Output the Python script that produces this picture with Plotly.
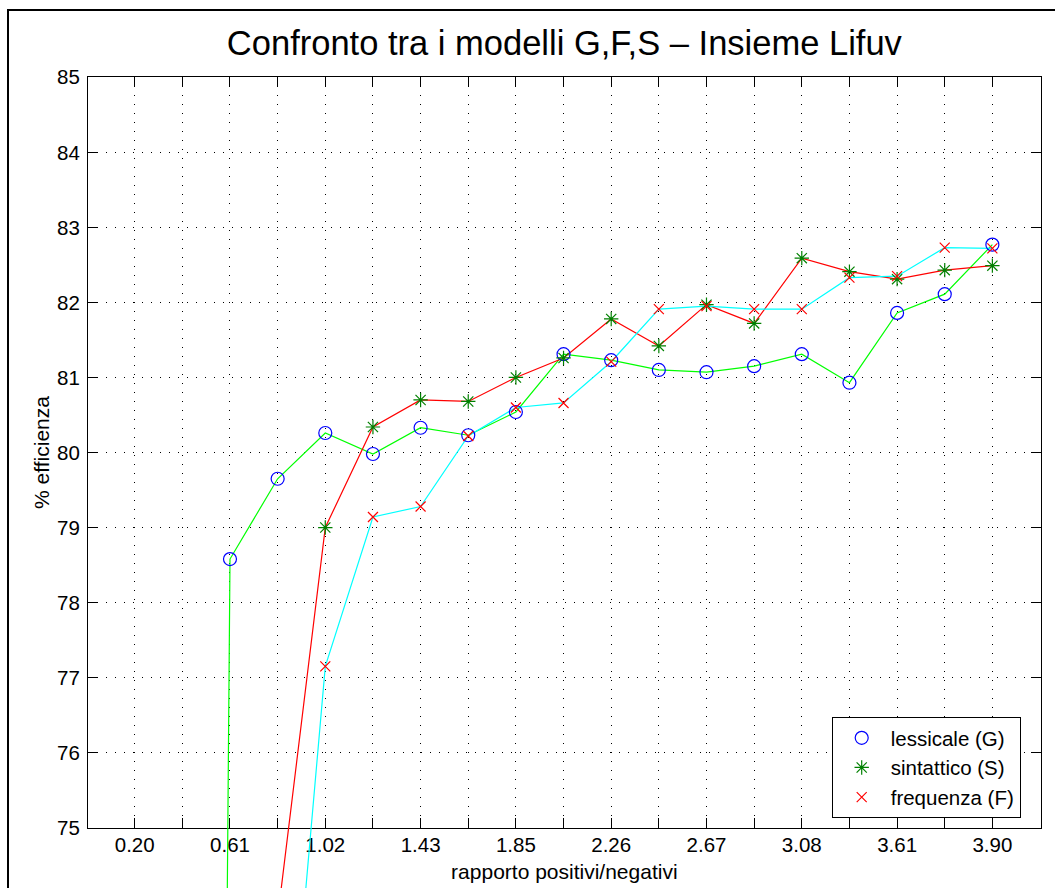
import plotly.graph_objects as go

# ---------------- data ----------------
# x positions: index along the ratio axis (integer = labelled tick, .5 = mid step)
x_steps = [0.0, 0.5, 1.0, 1.5, 2.0, 2.5, 3.0, 3.5, 4.0, 4.5,
           5.0, 5.5, 6.0, 6.5, 7.0, 7.5, 8.0, 8.5, 9.0]

tick_labels = ["0.20", "0.61", "1.02", "1.43", "1.85",
               "2.26", "2.67", "3.08", "3.61", "3.90"]

lessicale_G = [None, 0.0, 78.58, 79.65, 80.26, 79.98, 80.33, 80.23, 80.54, 81.31,
               81.23, 81.10, 81.07, 81.15, 81.31, 80.93, 81.86, 82.11, 82.77]

sintattico_S = [None, None, None, 73.8, 79.00, 80.34, 80.70, 80.68, 81.00, 81.26,
                81.78, 81.42, 81.97, 81.72, 82.59, 82.41, 82.31, 82.43, 82.49]

frequenza_F = [None, None, None, 69.9, 77.15, 79.14, 79.28, 80.22, 80.60, 80.66,
               81.21, 81.91, 81.95, 81.91, 81.91, 82.33, 82.35, 82.73, 82.72]

y_ticks = [75, 76, 77, 78, 79, 80, 81, 82, 83, 84, 85]

# ---------------- geometry ----------------
W, H = 1055, 888
AX_L, AX_R = 88.0, 1040.7     # px
AX_T, AX_B = 77.3, 827.7      # px
Y_MIN, Y_MAX = 75, 85
X_MIN, X_MAX = -0.49, 9.507

px_per_unit = (AX_B - AX_T) / (Y_MAX - Y_MIN)
y_ext_min = Y_MIN - (H - AX_B) / px_per_unit   # lines continue below the box

xdom = [AX_L / W, AX_R / W]
ydom_main = [1 - AX_B / H, 1 - AX_T / H]
ydom_ext = [0, 1 - AX_T / H]

FONT = "Liberation Sans, Arial, Helvetica, sans-serif"

x_ticks = x_steps
x_ticktext = [tick_labels[int(v)] if float(v).is_integer() else "" for v in x_steps]

fig = go.Figure()

# invisible trace to create the main (box) subplot with grid and axes
fig.add_trace(go.Scatter(x=[None], y=[None], xaxis="x", yaxis="y",
                         showlegend=False, hoverinfo="skip"))

# lines (drawn on an extended subplot so they run past the bottom of the box)
line_specs = [
    (lessicale_G, "#00ff00"),
    (sintattico_S, "#ff0000"),
    (frequenza_F, "#00ffff"),
]
for vals, col in line_specs:
    fig.add_trace(go.Scatter(
        x=x_steps, y=vals, mode="lines",
        line=dict(color=col, width=1.2),
        xaxis="x2", yaxis="y2", showlegend=False, hoverinfo="skip",
    ))

# markers
fig.add_trace(go.Scatter(
    x=x_steps, y=lessicale_G, mode="markers", name="lessicale (G)",
    marker=dict(symbol="circle-open", size=13, color="#0000ff",
                line=dict(color="#0000ff", width=1.2)),
    xaxis="x2", yaxis="y2",
))
fig.add_trace(go.Scatter(
    x=x_steps, y=sintattico_S, mode="markers", name="sintattico (S)",
    marker=dict(symbol="asterisk-open", size=12, color="#008000",
                line=dict(color="#008000", width=1.2)),
    xaxis="x2", yaxis="y2",
))
fig.add_trace(go.Scatter(
    x=x_steps, y=frequenza_F, mode="markers", name="frequenza (F)",
    marker=dict(symbol="x-thin-open", size=10, color="#ff0000",
                line=dict(color="#ff0000", width=1.2)),
    xaxis="x2", yaxis="y2",
))

axis_common = dict(
    showline=True, linecolor="black", linewidth=1, mirror="ticks",
    ticks="inside", ticklen=10, tickcolor="black", tickwidth=1,
    showgrid=True, gridcolor="#000000", gridwidth=1, griddash="1px,8px",
    zeroline=False, tickfont=dict(family=FONT, size=20.5, color="black"),
    automargin=False,
)

fig.update_layout(
    width=W, height=H,
    margin=dict(l=0, r=0, t=0, b=0),
    paper_bgcolor="white", plot_bgcolor="rgba(0,0,0,0)",
    font=dict(family=FONT, color="black"),
    title=dict(text="Confronto tra i modelli G,F,S \u2013 Insieme Lifuv",
               x=(AX_L + AX_R) / 2 / W, xanchor="center",
               y=1 - 43 / H, yanchor="middle",
               font=dict(family=FONT, size=34.5, color="black")),
    xaxis=dict(domain=xdom, range=[X_MIN, X_MAX], anchor="y",
               tickmode="array", tickvals=x_ticks, ticktext=x_ticktext,
               ticklabelstandoff=-1,
               title=dict(text="rapporto positivi/negativi", standoff=9,
                          font=dict(family=FONT, size=21)),
               **axis_common),
    yaxis=dict(domain=ydom_main, range=[Y_MIN, Y_MAX], anchor="x",
               tickmode="array", tickvals=y_ticks,
               ticklabelstandoff=3,
               title=dict(text="% efficienza", standoff=1,
                          font=dict(family=FONT, size=21)),
               **axis_common),
    xaxis2=dict(domain=xdom, range=[X_MIN, X_MAX], anchor="y2",
                visible=False, showgrid=False, zeroline=False),
    yaxis2=dict(domain=ydom_ext, range=[y_ext_min, Y_MAX], anchor="x2",
                visible=False, showgrid=False, zeroline=False),
    legend=dict(x=831.7 / W, y=1 - 818 / H, xanchor="left", yanchor="bottom",
                bgcolor="white", bordercolor="black", borderwidth=1,
                font=dict(family=FONT, size=20.5, color="black"),
                itemwidth=48, tracegroupgap=0),
    shapes=[dict(type="rect", xref="paper", yref="paper",
                 x0=8 / W, x1=1.02, y0=-0.02, y1=1 - 10 / H,
                 line=dict(color="black", width=2), fillcolor="rgba(0,0,0,0)",
                 layer="above")],
    showlegend=True,
)

fig.write_html("out.html", config={"displayModeBar": False},
               post_script="document.body.style.margin='0';")
